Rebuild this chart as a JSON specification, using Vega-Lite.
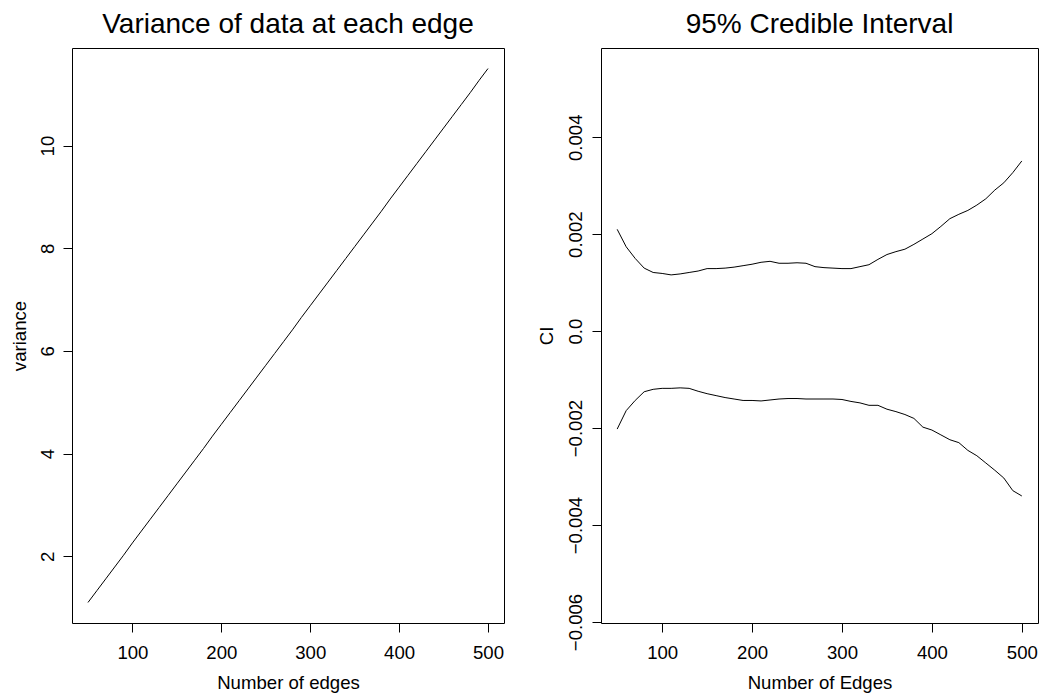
{
  "$schema": "https://vega.github.io/schema/vega-lite/v6.json",
  "autosize": {"type": "pad"},
  "padding": {"left": 9, "top": 10, "right": 0, "bottom": 0},
  "spacing": 31,
  "config": {
    "font": "Liberation Sans",
    "view": {"stroke": "black", "strokeWidth": 1},
    "axis": {
      "domain": false, "grid": false,
      "tickColor": "black", "tickSize": 9, "tickWidth": 1,
      "labelFontSize": 18.6, "labelColor": "black", "labelFont": "Liberation Sans",
      "titleFontSize": 18.6, "titleColor": "black", "titleFontWeight": "normal", "titleFont": "Liberation Sans"
    },
    "axisX": {"labelBaseline": "alphabetic", "labelPadding": 26, "labelAlign": "center", "titleBaseline": "alphabetic", "titleY": 65},
    "axisY": {"labelAngle": -90, "labelAlign": "center", "labelBaseline": "alphabetic", "labelPadding": 10, "titleAngle": -90, "titleBaseline": "alphabetic", "titleAlign": "center", "titleY": 287.5},
    "title": {"fontSize": 28, "fontWeight": "normal", "color": "black", "font": "Liberation Sans", "baseline": "alphabetic", "offset": 9, "frame": "group", "anchor": "middle"}
  },
  "datasets": {
    "variance": [
      {"edges": 50, "variance": 1.10}, {"edges": 60, "variance": 1.33}, {"edges": 70, "variance": 1.56}, {"edges": 80, "variance": 1.79},
      {"edges": 90, "variance": 2.02}, {"edges": 100, "variance": 2.26}, {"edges": 110, "variance": 2.49}, {"edges": 120, "variance": 2.72},
      {"edges": 130, "variance": 2.95}, {"edges": 140, "variance": 3.18}, {"edges": 150, "variance": 3.41}, {"edges": 160, "variance": 3.64},
      {"edges": 170, "variance": 3.87}, {"edges": 180, "variance": 4.10}, {"edges": 190, "variance": 4.34}, {"edges": 200, "variance": 4.57},
      {"edges": 210, "variance": 4.80}, {"edges": 220, "variance": 5.03}, {"edges": 230, "variance": 5.26}, {"edges": 240, "variance": 5.49},
      {"edges": 250, "variance": 5.72}, {"edges": 260, "variance": 5.95}, {"edges": 270, "variance": 6.18}, {"edges": 280, "variance": 6.41},
      {"edges": 290, "variance": 6.65}, {"edges": 300, "variance": 6.88}, {"edges": 310, "variance": 7.11}, {"edges": 320, "variance": 7.34},
      {"edges": 330, "variance": 7.57}, {"edges": 340, "variance": 7.80}, {"edges": 350, "variance": 8.03}, {"edges": 360, "variance": 8.26},
      {"edges": 370, "variance": 8.49}, {"edges": 380, "variance": 8.72}, {"edges": 390, "variance": 8.96}, {"edges": 400, "variance": 9.19},
      {"edges": 410, "variance": 9.42}, {"edges": 420, "variance": 9.65}, {"edges": 430, "variance": 9.88}, {"edges": 440, "variance": 10.11},
      {"edges": 450, "variance": 10.34}, {"edges": 460, "variance": 10.57}, {"edges": 470, "variance": 10.80}, {"edges": 480, "variance": 11.03},
      {"edges": 490, "variance": 11.27}, {"edges": 500, "variance": 11.50}
    ],
    "ci": [
      {"edges": 50, "bound": "upper", "ci": 0.00210}, {"edges": 60, "bound": "upper", "ci": 0.00174}, {"edges": 70, "bound": "upper", "ci": 0.00150},
      {"edges": 80, "bound": "upper", "ci": 0.00130}, {"edges": 90, "bound": "upper", "ci": 0.00121}, {"edges": 100, "bound": "upper", "ci": 0.00119},
      {"edges": 110, "bound": "upper", "ci": 0.00116}, {"edges": 120, "bound": "upper", "ci": 0.00118}, {"edges": 130, "bound": "upper", "ci": 0.00121},
      {"edges": 140, "bound": "upper", "ci": 0.00124}, {"edges": 150, "bound": "upper", "ci": 0.00129}, {"edges": 160, "bound": "upper", "ci": 0.00129},
      {"edges": 170, "bound": "upper", "ci": 0.00130}, {"edges": 180, "bound": "upper", "ci": 0.00132}, {"edges": 190, "bound": "upper", "ci": 0.00135},
      {"edges": 200, "bound": "upper", "ci": 0.00138}, {"edges": 210, "bound": "upper", "ci": 0.00142}, {"edges": 220, "bound": "upper", "ci": 0.00144},
      {"edges": 230, "bound": "upper", "ci": 0.00140}, {"edges": 240, "bound": "upper", "ci": 0.00140}, {"edges": 250, "bound": "upper", "ci": 0.00141},
      {"edges": 260, "bound": "upper", "ci": 0.00140}, {"edges": 270, "bound": "upper", "ci": 0.00133}, {"edges": 280, "bound": "upper", "ci": 0.00131},
      {"edges": 290, "bound": "upper", "ci": 0.00130}, {"edges": 300, "bound": "upper", "ci": 0.00129}, {"edges": 310, "bound": "upper", "ci": 0.00129},
      {"edges": 320, "bound": "upper", "ci": 0.00133}, {"edges": 330, "bound": "upper", "ci": 0.00137}, {"edges": 340, "bound": "upper", "ci": 0.00148},
      {"edges": 350, "bound": "upper", "ci": 0.00158}, {"edges": 360, "bound": "upper", "ci": 0.00164}, {"edges": 370, "bound": "upper", "ci": 0.00169},
      {"edges": 380, "bound": "upper", "ci": 0.00179}, {"edges": 390, "bound": "upper", "ci": 0.00190}, {"edges": 400, "bound": "upper", "ci": 0.00201},
      {"edges": 410, "bound": "upper", "ci": 0.00216}, {"edges": 420, "bound": "upper", "ci": 0.00232}, {"edges": 430, "bound": "upper", "ci": 0.00241},
      {"edges": 440, "bound": "upper", "ci": 0.00249}, {"edges": 450, "bound": "upper", "ci": 0.00260}, {"edges": 460, "bound": "upper", "ci": 0.00273},
      {"edges": 470, "bound": "upper", "ci": 0.00291}, {"edges": 480, "bound": "upper", "ci": 0.00306}, {"edges": 490, "bound": "upper", "ci": 0.00327},
      {"edges": 500, "bound": "upper", "ci": 0.00351},
      {"edges": 50, "bound": "lower", "ci": -0.00202}, {"edges": 60, "bound": "lower", "ci": -0.00164}, {"edges": 70, "bound": "lower", "ci": -0.00143},
      {"edges": 80, "bound": "lower", "ci": -0.00125}, {"edges": 90, "bound": "lower", "ci": -0.00120}, {"edges": 100, "bound": "lower", "ci": -0.00118},
      {"edges": 110, "bound": "lower", "ci": -0.00118}, {"edges": 120, "bound": "lower", "ci": -0.00117}, {"edges": 130, "bound": "lower", "ci": -0.00118},
      {"edges": 140, "bound": "lower", "ci": -0.00124}, {"edges": 150, "bound": "lower", "ci": -0.00129}, {"edges": 160, "bound": "lower", "ci": -0.00133},
      {"edges": 170, "bound": "lower", "ci": -0.00137}, {"edges": 180, "bound": "lower", "ci": -0.00140}, {"edges": 190, "bound": "lower", "ci": -0.00143},
      {"edges": 200, "bound": "lower", "ci": -0.00143}, {"edges": 210, "bound": "lower", "ci": -0.00144}, {"edges": 220, "bound": "lower", "ci": -0.00142},
      {"edges": 230, "bound": "lower", "ci": -0.00140}, {"edges": 240, "bound": "lower", "ci": -0.00139}, {"edges": 250, "bound": "lower", "ci": -0.00139},
      {"edges": 260, "bound": "lower", "ci": -0.00140}, {"edges": 270, "bound": "lower", "ci": -0.00140}, {"edges": 280, "bound": "lower", "ci": -0.00140},
      {"edges": 290, "bound": "lower", "ci": -0.00140}, {"edges": 300, "bound": "lower", "ci": -0.00141}, {"edges": 310, "bound": "lower", "ci": -0.00145},
      {"edges": 320, "bound": "lower", "ci": -0.00148}, {"edges": 330, "bound": "lower", "ci": -0.00153}, {"edges": 340, "bound": "lower", "ci": -0.00153},
      {"edges": 350, "bound": "lower", "ci": -0.00161}, {"edges": 360, "bound": "lower", "ci": -0.00166}, {"edges": 370, "bound": "lower", "ci": -0.00172},
      {"edges": 380, "bound": "lower", "ci": -0.00180}, {"edges": 390, "bound": "lower", "ci": -0.00198}, {"edges": 400, "bound": "lower", "ci": -0.00204},
      {"edges": 410, "bound": "lower", "ci": -0.00214}, {"edges": 420, "bound": "lower", "ci": -0.00224}, {"edges": 430, "bound": "lower", "ci": -0.00230},
      {"edges": 440, "bound": "lower", "ci": -0.00246}, {"edges": 450, "bound": "lower", "ci": -0.00257}, {"edges": 460, "bound": "lower", "ci": -0.00272},
      {"edges": 470, "bound": "lower", "ci": -0.00287}, {"edges": 480, "bound": "lower", "ci": -0.00303}, {"edges": 490, "bound": "lower", "ci": -0.00329},
      {"edges": 500, "bound": "lower", "ci": -0.00340}
    ]
  },
  "hconcat": [
    {
      "width": 432,
      "height": 575,
      "title": {"text": "Variance of data at each edge"},
      "data": {"name": "variance"},
      "mark": {"type": "line", "color": "black", "strokeWidth": 1},
      "encoding": {
        "x": {"field": "edges", "type": "quantitative", "scale": {"domain": [32, 518], "nice": false, "zero": false},
              "axis": {"values": [100, 200, 300, 400, 500], "title": "Number of edges", "titleX": 216}},
        "y": {"field": "variance", "type": "quantitative", "scale": {"domain": [0.70, 11.90], "nice": false, "zero": false},
              "axis": {"values": [2, 4, 6, 8, 10], "title": "variance", "titleX": -47}}
      }
    },
    {
      "width": 437,
      "height": 575,
      "title": {"text": "95% Credible Interval"},
      "layer": [
        {
          "data": {"name": "ci"},
          "mark": {"type": "line", "color": "black", "strokeWidth": 1},
          "encoding": {
            "x": {"field": "edges", "type": "quantitative", "scale": {"domain": [32, 518], "nice": false, "zero": false},
                  "axis": {"values": [100, 200, 300, 400, 500], "title": "Number of Edges", "titleX": 218.5}},
            "y": {"field": "ci", "type": "quantitative", "scale": {"domain": [-0.00602, 0.00584], "nice": false, "zero": false},
                  "axis": {"values": [-0.006, -0.004, -0.002, 0, 0.002, 0.004], "labelExpr": "datum.value == 0 ? '0.0' : replace(format(datum.value, '.3f'), '-', '\u2212')", "title": "CI", "titleX": -49, "labelPadding": 11}},
            "detail": {"field": "bound", "type": "nominal"}
          }
        },
        {
          "mark": {"type": "rule", "color": "black", "strokeWidth": 1, "strokeDash": [1, 2]},
          "encoding": {"y": {"datum": 0}}
        }
      ]
    }
  ]
}
